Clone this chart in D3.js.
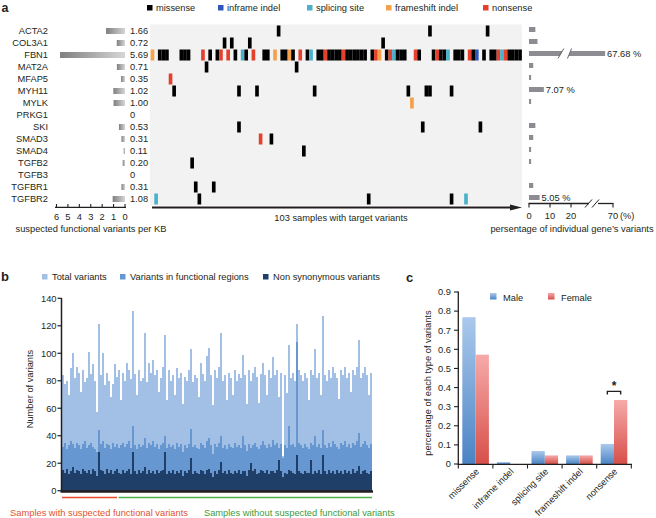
<!DOCTYPE html>
<html><head><meta charset="utf-8">
<script src="https://cdn.jsdelivr.net/npm/d3@7"></script>
<style>body{margin:0;background:#fff}svg{display:block;font-family:"Liberation Sans",Arial,sans-serif}</style>
</head><body><svg id="c" width="656" height="518"></svg>
<script>
// ---------- Panel a data ----------
const genes = ["ACTA2","COL3A1","FBN1","MAT2A","MFAP5","MYH11","MYLK","PRKG1","SKI","SMAD3","SMAD4","TGFB2","TGFB3","TGFBR1","TGFBR2"];
const perKB = [1.66,0.72,5.69,0.71,0.35,1.02,1.00,0,0.53,0.31,0.11,0.20,0,0.31,1.08];
const perKBLabels = ["1.66","0.72","5.69","0.71","0.35","1.02","1.00","0","0.53","0.31","0.11","0.20","0","0.31","1.08"];
const genePct = [3.03,4.04,67.68,2.02,1.01,7.07,1.01,0,3.03,2.02,1.01,1.01,0,2.02,5.05];
const genePctLabels = ["","","67.68 %","","","7.07 %","","","","","","","","","5.05 %"];
const nSamples = 103;
const variantTypes = ["missense","inframe indel","splicing site","frameshift indel","nonsense"];
const variantCodes = ["M","I","S","F","N"];
const variantColors = ["#000000","#2f56b9","#4bb0c9","#f5a04a","#e3412d"];
// [sample index, type code] per gene, in gene order
const tracks = [
  [[35,"M"],[77,"M"],[93,"M"]],
  [[20,"M"],[22,"M"],[27,"M"],[64,"M"]],
  [[0,"F"],[2,"M"],[3,"M"],[4,"M"],[8,"M"],[9,"M"],[10,"M"],[14,"N"],[16,"M"],[18,"M"],[19,"N"],[21,"N"],[23,"M"],[25,"S"],[26,"M"],[28,"N"],[31,"M"],[32,"M"],[34,"F"],[36,"M"],[37,"M"],[38,"F"],[39,"M"],[41,"N"],[43,"M"],[44,"S"],[46,"M"],[47,"M"],[48,"N"],[49,"M"],[50,"M"],[51,"M"],[52,"M"],[53,"N"],[54,"M"],[55,"M"],[56,"M"],[57,"M"],[58,"M"],[59,"M"],[61,"M"],[62,"N"],[63,"F"],[65,"M"],[66,"N"],[67,"S"],[68,"M"],[69,"M"],[70,"M"],[73,"N"],[74,"M"],[78,"M"],[79,"N"],[80,"M"],[81,"M"],[82,"S"],[84,"M"],[85,"M"],[86,"M"],[88,"N"],[89,"M"],[90,"I"],[92,"M"],[94,"M"],[95,"M"],[96,"N"],[97,"S"],[98,"N"],[99,"M"],[100,"M"],[101,"M"],[102,"M"]],
  [[15,"M"],[40,"M"]],
  [[5,"N"]],
  [[6,"M"],[24,"M"],[29,"M"],[45,"M"],[71,"M"],[76,"M"],[77,"M"],[83,"M"]],
  [[72,"F"]],
  [],
  [[24,"M"],[75,"M"],[91,"M"]],
  [[30,"N"],[33,"M"]],
  [[42,"M"]],
  [[11,"M"]],
  [],
  [[12,"M"],[17,"M"]],
  [[1,"S"],[13,"M"],[60,"M"],[83,"M"],[87,"S"]]
];
const kbTicks = [6,5,4,3,2,1,0];
const pctTicks = [0,10,20,70];

// ---------- Panel b data ----------
const bSeriesNames = ["Total variants","Variants in functional regions","Non synonymous variants"];
const totalVariants = [84,78,80,70,89,100,82,90,86,72, 88,79,82,101,85,92,80,57,121,84, 100,77,86,80,68,78,92,83,88,66,
 86,80,93,88,81,131,85,70,88,80, 82,115,79,93,86,95,84,88,72,82, 90,113,66,88,80,84,70,89,82,86,
 63,83,80,88,103,79,84,82,68,93, 85,80,98,104,84,62,88,82,90,115, 80,84,66,86,82,70,88,80,85,82,
 99,84,63,88,80,86,90,83,64,85, 93,84,70,88,82,97,84,88,68,86, 25,84,71,106,82,86,80,121,88,84,
 80,86,82,66,88,84,103,82,86,70, 127,84,80,88,82,90,86,82,67,88, 84,90,82,86,72,88,84,90,110,82, 86,90,84,70,86];
const functionalVariants = [32,35,30,33,36,34,31,35,33,30, 34,36,31,33,35,32,30,28,44,34, 36,31,34,33,30,35,32,34,31,33,
 35,32,34,36,31,47,33,30,34,32, 33,38,31,35,33,36,32,34,30,33, 35,40,31,34,32,33,30,35,32,34,
 28,33,31,34,45,32,33,31,30,35, 33,31,36,38,33,27,34,32,35,40, 31,33,30,34,32,31,35,32,33,31,
 40,33,29,34,31,33,35,32,30,33, 36,33,31,34,32,37,33,35,31,34, 24,33,31,47,33,34,32,108,35,33,
 31,34,32,30,35,33,40,32,34,31, 44,33,31,35,32,36,34,32,30,35, 33,36,32,34,31,35,33,36,42,32, 34,36,33,31,34];
const nonsynVariants = [15,13,16,12,14,17,13,15,14,12, 16,14,13,15,12,16,14,11,28,15, 14,12,16,13,15,12,14,16,13,12,
 15,13,14,16,12,28,14,12,15,13, 14,17,12,15,13,14,12,15,13,14, 15,28,12,14,13,15,12,14,13,15,
 11,14,13,15,24,12,14,13,12,15, 14,12,15,16,13,10,14,12,15,21, 13,14,12,15,13,12,14,13,15,12,
 14,14,11,15,20,14,16,12,13,15, 14,13,15,12,14,14,13,15,22,14, 10,13,12,15,14,13,12,26,14,13,
 12,14,13,13,22,12,14,13,15,12, 26,14,12,15,13,14,12,15,13,14, 12,15,13,14,12,16,13,14,18,12, 14,15,13,12,14];
const bColors = ["#a2c0e5","#6697d0","#1f3e68"];
const suspectedCount = 28; // first samples (bars) with suspected functional variants
const bTicks = [0,20,40,60,80,100,120,140];

// ---------- Panel c data ----------
const cCats = ["missense","inframe indel","splicing site","frameshift indel","nonsense"];
const maleVals = [0.768,0.01,0.068,0.045,0.105];
const femaleVals = [0.572,0,0.045,0.045,0.335];
const cTicks = [0,0.1,0.2,0.3,0.4,0.5,0.6,0.7,0.8,0.9];
const sexes = ["Male","Female"];

// ---------- drawing ----------
const svg = d3.select("#c");
const ink = "#231f20";
const FS = "9.3px";
const defs = svg.append("defs");
function lin(id, x2, y2, c1, c2){
  const g = defs.append("linearGradient").attr("id",id).attr("x1",0).attr("y1",0).attr("x2",x2).attr("y2",y2);
  g.append("stop").attr("offset","0%").attr("stop-color",c1);
  g.append("stop").attr("offset","100%").attr("stop-color",c2);
}
lin("gkb",1,0,"#7f7f7f","#d6d6d6");
lin("gmale",0,1,"#abc9ec","#4a84c4");
lin("gfem",0,1,"#f6aaa9","#d74f49");

function txt(x,y,s,opt={}){
  const t = svg.append("text").attr("x",x).attr("y",y).text(s)
    .attr("font-size",opt.size||FS).attr("fill",opt.fill||ink)
    .attr("text-anchor",opt.anchor||"start");
  if(opt.bold) t.attr("font-weight","bold");
  if(opt.rotate!==undefined) t.attr("transform",`rotate(${opt.rotate},${x},${y})`);
  return t;
}

// panel labels
txt(1.5,12,"a",{size:"12.5px",bold:true});
txt(1,281,"b",{size:"13px",bold:true});
txt(406,282,"c",{size:"13px",bold:true});

// ---- panel a ----
const yA = d3.scaleBand().domain(genes).range([25,205]);
const xA = d3.scaleBand().domain(d3.range(nSamples)).range([150.5,522]).paddingInner(0).paddingOuter(0.05);
svg.append("rect").attr("x",150).attr("y",24.5).attr("width",372).attr("height",181).attr("fill","#f2f2f2");

// legend a
const legAX = [147,218,307,386,483];
variantTypes.forEach((t,i)=>{
  svg.append("rect").attr("x",legAX[i]).attr("y",5).attr("width",5.5).attr("height",5.5).attr("fill",variantColors[i]);
  txt(legAX[i]+9,11,t);
});

// marks
genes.forEach((g,gi)=>{
  svg.append("g").selectAll("rect").data(tracks[gi]).join("rect")
    .attr("x",d=>xA(d[0])).attr("y",yA(g)+0.5)
    .attr("width",xA.bandwidth()+0.05).attr("height",yA.bandwidth()-1)
    .attr("fill",d=>variantColors[variantCodes.indexOf(d[1])]);
});

// gene names
genes.forEach((g)=>txt(48,yA(g)+yA.bandwidth()/2+3.4,g,{anchor:"end"}));

// left bars
const xKB = d3.scaleLinear().domain([0,6]).range([125,56.5]);
svg.append("g").selectAll("rect").data(genes).join("rect")
  .attr("x",(g,i)=>xKB(perKB[i])).attr("y",g=>yA(g)+3)
  .attr("width",(g,i)=>xKB(0)-xKB(perKB[i])).attr("height",6)
  .attr("fill","url(#gkb)");
genes.forEach((g,i)=>txt(130,yA(g)+yA.bandwidth()/2+3.4,perKBLabels[i]));

// left axis
const axL = svg.append("g");
axL.append("line").attr("x1",55).attr("x2",126).attr("y1",207.3).attr("y2",207.3).attr("stroke",ink).attr("stroke-width",1.3);
kbTicks.forEach(t=>{
  axL.append("line").attr("x1",xKB(t)).attr("x2",xKB(t)).attr("y1",207.3).attr("y2",204).attr("stroke",ink).attr("stroke-width",1.1);
  txt(xKB(t),220,String(t),{anchor:"middle"});
});
txt(91,231.5,"suspected functional variants per KB",{anchor:"middle"});

// bottom arrow
svg.append("line").attr("x1",152).attr("x2",512).attr("y1",207.5).attr("y2",207.5).attr("stroke",ink).attr("stroke-width",2);
svg.append("path").attr("d","M510,204.5L522,207.5L510,210.5Z").attr("fill",ink);
txt(341,221,"103 samples with target variants",{anchor:"middle"});

// right bars
const xP = d3.scaleLinear().domain([0,20,65,70]).range([529,571,596,613]);
svg.append("g").selectAll("rect").data(genes).join("rect")
  .attr("x",xP(0)).attr("y",g=>yA(g)+yA.bandwidth()/2-4)
  .attr("width",(g,i)=>Math.max(0,xP(genePct[i])-xP(0))).attr("height",5)
  .attr("fill","#8d8c93");
genes.forEach((g,i)=>{ if(genePctLabels[i]) txt(xP(genePct[i])+2,yA(g)+yA.bandwidth()/2+2,genePctLabels[i]); });
// break on the long bar
const fy = yA("FBN1")+yA.bandwidth()/2-4;
svg.append("path").attr("d",`M${xP(14)},${fy+7}L${xP(16.5)},${fy-2}L${xP(21)},${fy-2}L${xP(18.5)},${fy+7}Z`).attr("fill","#fff");
svg.append("path").attr("d",`M${xP(13.8)},${fy+7.5}L${xP(16.6)},${fy-2.5}M${xP(18.3)},${fy+7.5}L${xP(21.1)},${fy-2.5}`).attr("stroke","#555").attr("stroke-width",0.9);

// right axis with break
const axR = svg.append("g");
const ay = 203.5;
axR.append("line").attr("x1",528.5).attr("x2",589).attr("y1",ay).attr("y2",ay).attr("stroke",ink).attr("stroke-width",1.3);
axR.append("line").attr("x1",598).attr("x2",613.5).attr("y1",ay).attr("y2",ay).attr("stroke",ink).attr("stroke-width",1.3);
axR.append("path").attr("d",`M585,${ay+4}L592,${ay-4}M592,${ay+4}L599,${ay-4}`).attr("stroke",ink).attr("stroke-width",1);
pctTicks.forEach(t=>{
  axR.append("line").attr("x1",xP(t)).attr("x2",xP(t)).attr("y1",ay).attr("y2",ay+4).attr("stroke",ink).attr("stroke-width",1.1);
  txt(xP(t),219,String(t),{anchor:"middle"});
});
txt(620,219,"(%)");
txt(572,231.5,"persentage of individual gene\u2019s variants",{anchor:"middle"});

// ---- panel b ----
const yB = d3.scaleLinear().domain([0,140]).range([490.7,298.3]);
const xB = d3.scaleBand().domain(d3.range(totalVariants.length)).range([62,372]);
const bSeries = [totalVariants,functionalVariants,nonsynVariants];
bSeries.forEach((s,si)=>{
  svg.append("g").attr("shape-rendering","crispEdges").selectAll("rect").data(s).join("rect")
    .attr("x",(d,i)=>xB(i)).attr("y",d=>yB(d)).attr("width",xB.bandwidth()).attr("height",d=>yB(0)-yB(d))
    .attr("fill",bColors[si]);
});
// legend b
const legBX = [42,120,263];
bSeriesNames.forEach((n,i)=>{
  svg.append("rect").attr("x",legBX[i]).attr("y",274).attr("width",5.5).attr("height",5.5).attr("fill",bColors[i]);
  txt(legBX[i]+10,280,n);
});
// axes b
const axB = svg.append("g");
axB.append("line").attr("x1",61.5).attr("x2",61.5).attr("y1",298).attr("y2",491).attr("stroke",ink).attr("stroke-width",1.5);
bTicks.forEach(t=>{
  axB.append("line").attr("x1",57.5).attr("x2",61.5).attr("y1",yB(t)).attr("y2",yB(t)).attr("stroke",ink).attr("stroke-width",1.2);
  txt(56.5,yB(t)+3.3,String(t),{anchor:"end"});
});
axB.append("line").attr("x1",60.5).attr("x2",373).attr("y1",491.5).attr("y2",491.5).attr("stroke",ink).attr("stroke-width",2.5);
txt(33,389,"Number of variants",{anchor:"middle",rotate:-90});
// group lines
const splitX = xB(suspectedCount);
svg.append("line").attr("x1",62).attr("x2",splitX-1).attr("y1",497.5).attr("y2",497.5).attr("stroke","#ea4a2a").attr("stroke-width",1.5);
svg.append("line").attr("x1",splitX+0.5).attr("x2",372).attr("y1",497.5).attr("y2",497.5).attr("stroke","#4caf50").attr("stroke-width",1.5);
txt(99,516,"Samples with suspected functional variants",{anchor:"middle",fill:"#e2532d"});
txt(204,516,"Samples without suspected functional variants",{fill:"#3a9b3e"});

// ---- panel c ----
const yC = d3.scaleLinear().domain([0,0.9]).range([464,292]);
const xC = d3.scaleBand().domain(cCats).range([458.3,631.3]);
const inner = d3.scaleBand().domain(sexes).range([4,30.6]);
const cVals = [maleVals,femaleVals];
const cFills = ["url(#gmale)","url(#gfem)"];
sexes.forEach((s,si)=>{
  svg.append("g").selectAll("rect").data(cCats).join("rect")
    .attr("x",c=>xC(c)+inner(s)).attr("y",(c,i)=>yC(cVals[si][i]))
    .attr("width",inner.bandwidth()).attr("height",(c,i)=>yC(0)-yC(cVals[si][i]))
    .attr("fill",cFills[si]);
});
const axC = svg.append("g");
axC.append("line").attr("x1",458.3).attr("x2",458.3).attr("y1",291.5).attr("y2",464.5).attr("stroke",ink).attr("stroke-width",1.3);
cTicks.forEach(t=>{
  axC.append("line").attr("x1",454).attr("x2",458.3).attr("y1",yC(t)).attr("y2",yC(t)).attr("stroke",ink).attr("stroke-width",1.1);
  txt(451,yC(t)+3.3,t===0?"0":t.toFixed(1),{anchor:"end"});
});
axC.append("line").attr("x1",457.6).attr("x2",632).attr("y1",464.3).attr("y2",464.3).attr("stroke",ink).attr("stroke-width",1.3);
cCats.concat([null]).forEach((c,i)=>{
  const x = c? xC(c) : 631.3;
  axC.append("line").attr("x1",x).attr("x2",x).attr("y1",464.3).attr("y2",468.5).attr("stroke",ink).attr("stroke-width",1.1);
});
cCats.forEach(c=>{
  txt(xC(c)+xC.bandwidth()/2+4,472,c,{anchor:"end",rotate:-45});
});
txt(431,383,"percentage of each type of variants",{anchor:"middle",rotate:-90});
// legend c
const legCX = [490,548];
sexes.forEach((s,i)=>{
  svg.append("rect").attr("x",legCX[i]).attr("y",293).attr("width",6.5).attr("height",6.5).attr("fill",cFills[i]);
  txt(legCX[i]+13,300.5,s);
});
// significance bracket over nonsense
const nx = xC("nonsense");
const by = yC(0.38);
svg.append("path").attr("d",`M${nx+inner("Male")+inner.bandwidth()/2},${by+3}V${by}H${nx+inner("Female")+inner.bandwidth()/2}V${by+3}`)
  .attr("fill","none").attr("stroke",ink).attr("stroke-width",1.4);
txt(nx+inner.bandwidth()+4,by-1.5,"*",{anchor:"middle",size:"12px",bold:true});
</script></body></html>
